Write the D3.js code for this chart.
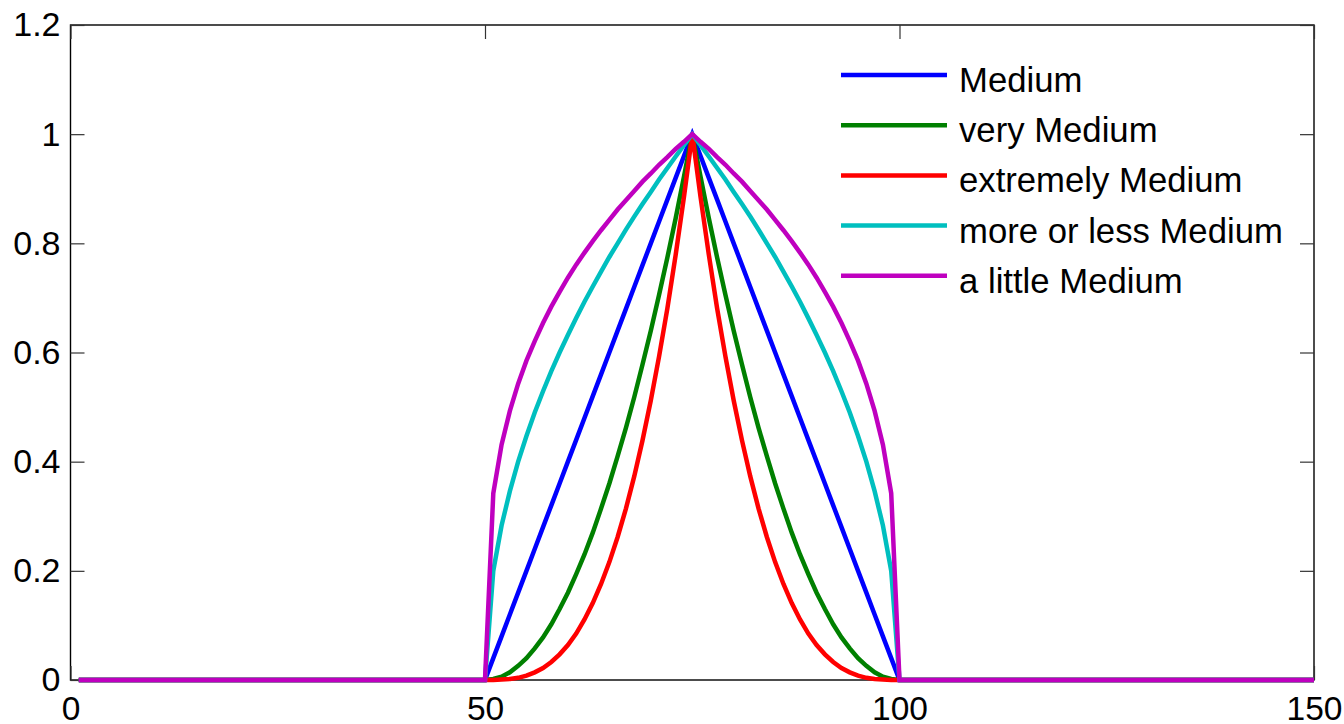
<!DOCTYPE html>
<html>
<head>
<meta charset="utf-8">
<script src="https://cdn.jsdelivr.net/npm/d3@7"></script>
<style>
  html, body { margin: 0; padding: 0; background: #fff; }
  svg { display: block; }
  text { font-family: "Liberation Sans", Arial, sans-serif; fill: #000; }
</style>
</head>
<body>
<svg id="chart" width="1344" height="724"></svg>
<script>
// Sample positions along the universe of discourse
const xValues = [1, 50,
  51, 52, 53, 54, 55, 56, 57, 58, 59, 60, 61, 62, 63, 64, 65, 66, 67, 68, 69, 70, 71, 72, 73, 74,
  75,
  76, 77, 78, 79, 80, 81, 82, 83, 84, 85, 86, 87, 88, 89, 90, 91, 92, 93, 94, 95, 96, 97, 98, 99,
  100, 150];

// Membership grades for each hedge of the "Medium" set
const medium = [0, 0,
  0.04, 0.08, 0.12, 0.16, 0.2, 0.24, 0.28, 0.32, 0.36, 0.4, 0.44, 0.48, 0.52, 0.56, 0.6, 0.64, 0.68, 0.72, 0.76, 0.8, 0.84, 0.88, 0.92, 0.96,
  1,
  0.96, 0.92, 0.88, 0.84, 0.8, 0.76, 0.72, 0.68, 0.64, 0.6, 0.56, 0.52, 0.48, 0.44, 0.4, 0.36, 0.32, 0.28, 0.24, 0.2, 0.16, 0.12, 0.08, 0.04,
  0, 0];

const veryMedium = [0, 0,
  0.002, 0.006, 0.014, 0.026, 0.04, 0.058, 0.078, 0.102, 0.13, 0.16, 0.194, 0.23, 0.27, 0.314, 0.36, 0.41, 0.462, 0.518, 0.578, 0.64, 0.706, 0.774, 0.846, 0.922,
  1,
  0.922, 0.846, 0.774, 0.706, 0.64, 0.578, 0.518, 0.462, 0.41, 0.36, 0.314, 0.27, 0.23, 0.194, 0.16, 0.13, 0.102, 0.078, 0.058, 0.04, 0.026, 0.014, 0.006, 0.002,
  0, 0];

const extremelyMedium = [0, 0,
  0, 0.001, 0.002, 0.004, 0.008, 0.014, 0.022, 0.033, 0.047, 0.064, 0.085, 0.111, 0.141, 0.176, 0.216, 0.262, 0.314, 0.373, 0.439, 0.512, 0.593, 0.681, 0.779, 0.885,
  1,
  0.885, 0.779, 0.681, 0.593, 0.512, 0.439, 0.373, 0.314, 0.262, 0.216, 0.176, 0.141, 0.111, 0.085, 0.064, 0.047, 0.033, 0.022, 0.014, 0.008, 0.004, 0.002, 0.001, 0,
  0, 0];

const moreOrLessMedium = [0, 0,
  0.2, 0.283, 0.346, 0.4, 0.447, 0.49, 0.529, 0.566, 0.6, 0.632, 0.663, 0.693, 0.721, 0.748, 0.775, 0.8, 0.825, 0.849, 0.872, 0.894, 0.917, 0.938, 0.959, 0.98,
  1,
  0.98, 0.959, 0.938, 0.917, 0.894, 0.872, 0.849, 0.825, 0.8, 0.775, 0.748, 0.721, 0.693, 0.663, 0.632, 0.6, 0.566, 0.529, 0.49, 0.447, 0.4, 0.346, 0.283, 0.2,
  0, 0];

const aLittleMedium = [0, 0,
  0.342, 0.431, 0.493, 0.543, 0.585, 0.621, 0.654, 0.684, 0.711, 0.737, 0.761, 0.783, 0.804, 0.824, 0.843, 0.862, 0.879, 0.896, 0.913, 0.928, 0.944, 0.958, 0.973, 0.986,
  1,
  0.986, 0.973, 0.958, 0.944, 0.928, 0.913, 0.896, 0.879, 0.862, 0.843, 0.824, 0.804, 0.783, 0.761, 0.737, 0.711, 0.684, 0.654, 0.621, 0.585, 0.543, 0.493, 0.431, 0.342,
  0, 0];

const seriesNames = ["Medium", "very Medium", "extremely Medium", "more or less Medium", "a little Medium"];
const seriesColors = ["#0000ff", "#008000", "#ff0000", "#00bfbf", "#bf00bf"];

const xTicks = [0, 50, 100, 150];
const xTickLabels = ["0", "50", "100", "150"];
const yTicks = [0, 0.2, 0.4, 0.6, 0.8, 1, 1.2];
const yTickLabels = ["0", "0.2", "0.4", "0.6", "0.8", "1", "1.2"];

(function drawChart() {
  const svg = d3.select("#chart");
  const plotLeft = 70.5, plotRight = 1314, plotTop = 25, plotBottom = 680;
  const tickLen = 14;

  const x = d3.scaleLinear().domain([0, 150]).range([plotLeft, plotRight]);
  const y = d3.scaleLinear().domain([0, 1.2]).range([plotBottom, plotTop]);

  const series = [medium, veryMedium, extremelyMedium, moreOrLessMedium, aLittleMedium]
    .map((vals, i) => ({ name: seriesNames[i], color: seriesColors[i],
                         points: xValues.map((xv, j) => [xv, vals[j]]) }));

  // frame and inward ticks on all four sides
  svg.append("rect")
    .attr("x", plotLeft).attr("y", plotTop)
    .attr("width", plotRight - plotLeft).attr("height", plotBottom - plotTop)
    .attr("fill", "none").attr("stroke", "#000").attr("stroke-width", 1.4);

  function styleAxis(g, fontSize) {
    g.select(".domain").remove();
    g.selectAll(".tick line").attr("stroke", "#333").attr("stroke-width", 1.2);
    g.selectAll(".tick text")
      .attr("font-size", fontSize)
      .attr("font-family", '"Liberation Sans", Arial, sans-serif')
      .attr("fill", "#000");
  }

  svg.append("g")
    .attr("transform", `translate(0,${plotBottom})`)
    .call(d3.axisBottom(x).tickValues(xTicks)
      .tickFormat((d, i) => xTickLabels[i])
      .tickSizeInner(-tickLen).tickSizeOuter(0).tickPadding(16))
    .call(g => styleAxis(g, 33.5));

  svg.append("g")
    .attr("transform", `translate(0,${plotTop})`)
    .call(d3.axisTop(x).tickValues(xTicks).tickFormat("")
      .tickSizeInner(-tickLen).tickSizeOuter(0))
    .call(g => styleAxis(g, 33.5));

  svg.append("g")
    .attr("transform", `translate(${plotLeft},0)`)
    .call(d3.axisLeft(y).tickValues(yTicks)
      .tickFormat((d, i) => yTickLabels[i])
      .tickSizeInner(-tickLen).tickSizeOuter(0).tickPadding(10))
    .call(g => styleAxis(g, 34));

  svg.append("g")
    .attr("transform", `translate(${plotRight},0)`)
    .call(d3.axisRight(y).tickValues(yTicks).tickFormat("")
      .tickSizeInner(-tickLen).tickSizeOuter(0))
    .call(g => styleAxis(g, 34));

  // membership curves
  const line = d3.line().x(d => x(d[0])).y(d => y(d[1]));

  svg.append("g").selectAll("path")
    .data(series)
    .join("path")
    .attr("d", d => line(d.points))
    .attr("fill", "none")
    .attr("stroke", d => d.color)
    .attr("stroke-width", 4.5)
    .attr("stroke-linejoin", "miter");

  // legend
  const legend = svg.append("g").attr("transform", "translate(841,75)");
  const rowGap = 50.2;
  const rows = legend.selectAll("g")
    .data(series)
    .join("g")
    .attr("transform", (d, i) => `translate(0,${i * rowGap})`);

  rows.append("line")
    .attr("x1", 0).attr("x2", 106)
    .attr("y1", 0).attr("y2", 0)
    .attr("stroke", d => d.color)
    .attr("stroke-width", 4.5);

  rows.append("text")
    .attr("x", 118)
    .attr("y", 17)
    .attr("font-size", 34.7)
    .text(d => d.name);
})();
</script>
</body>
</html>
